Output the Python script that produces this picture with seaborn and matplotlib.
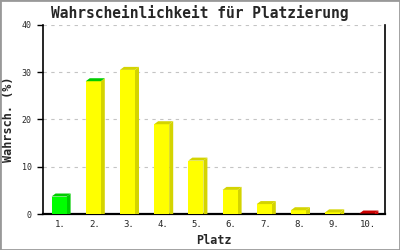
import matplotlib
matplotlib.use("Agg")
import matplotlib.pyplot as plt
from matplotlib.patches import Polygon, Rectangle
import seaborn as sns
import pandas as pd

places = ["1.", "2.", "3.", "4.", "5.", "6.", "7.", "8.", "9.", "10."]
probs = [3.7, 28.1, 30.5, 19.0, 11.3, 5.1, 2.1, 0.8, 0.35, 0.1]
front_colors = ["#00ff00"] + ["#ffff00"] * 8 + ["#ff0000"]
side_colors = ["#00cc00"] + ["#d4d400"] * 8 + ["#cc0000"]
top_colors = ["#00cc00", "#00cc00"] + ["#d4d400"] * 7 + ["#cc0000"]
yticks = [0, 10, 20, 30, 40]

title = "Wahrscheinlichkeit für Platzierung"
xlabel = "Platz"
ylabel = "Wahrsch. (%)"

sns.set_style("white")
plt.rcParams["font.family"] = ["DejaVu Sans Mono", "DejaVu Sans"]

df = pd.DataFrame({"Platz": places, "p": probs})

fig = plt.figure(figsize=(4, 2.5), dpi=100)
ax = fig.add_axes([43 / 400, 36 / 250, 342 / 400, 189 / 250])

sns.barplot(data=df, x="Platz", y="p", hue="Platz", palette=front_colors,
            order=places, hue_order=places, legend=False, width=0.44,
            dodge=False, saturation=1, ax=ax, zorder=3, linewidth=0)

ax.set_xlim(-0.5, 9.5)
ax.set_ylim(0, 40)
ax.set_yticks(yticks)
ax.set_yticklabels([str(t) for t in yticks])

# depth offsets in data units from pixel sizes
fig.canvas.draw()
inv = ax.transData.inverted()
p0 = inv.transform((0, 0))
p1 = inv.transform((4, 3))
dx = p1[0] - p0[0]
dy = p1[1] - p0[1]

for i, patch in enumerate(ax.patches[:len(probs)]):
    x = patch.get_x() - 0.03
    patch.set_x(x)
    w = patch.get_width()
    h = patch.get_height()
    side = Polygon([(x + w, 0), (x + w + dx, 0), (x + w + dx, h + dy), (x + w, h)],
                   closed=True, facecolor=side_colors[i], edgecolor="none", zorder=2.9)
    top = Polygon([(x, h), (x + w, h), (x + w + dx, h + dy), (x + dx, h + dy)],
                  closed=True, facecolor=top_colors[i], edgecolor="none", zorder=3.1)
    ax.add_patch(side)
    ax.add_patch(top)

ax.yaxis.grid(True, linestyle=(0, (3, 4)), color="#c4c4c4", linewidth=0.8, zorder=0)
ax.xaxis.grid(False)
ax.set_axisbelow(True)

for s in ["left", "bottom", "right"]:
    ax.spines[s].set_visible(True)
    ax.spines[s].set_color("black")
    ax.spines[s].set_linewidth(1.2)
ax.spines["top"].set_visible(False)
ax.spines["bottom"].set_linewidth(1.6)

ax.tick_params(axis="y", direction="out", length=4, width=1, color="black",
               labelsize=6, pad=4, left=True)
ax.tick_params(axis="x", length=0, labelsize=6.5, pad=4)

ax.set_xlabel(xlabel, fontsize=8.5, fontweight="bold", labelpad=4)
ax.set_ylabel(ylabel, fontsize=8.5, fontweight="bold", labelpad=5)
fig.suptitle(title, fontsize=10.5, fontweight="bold", y=0.98)

fig.patches.append(Rectangle((0, 0), 1, 1, transform=fig.transFigure,
                             fill=False, edgecolor="#999999", linewidth=2))

fig.savefig("out.png", dpi=100, facecolor="white")
